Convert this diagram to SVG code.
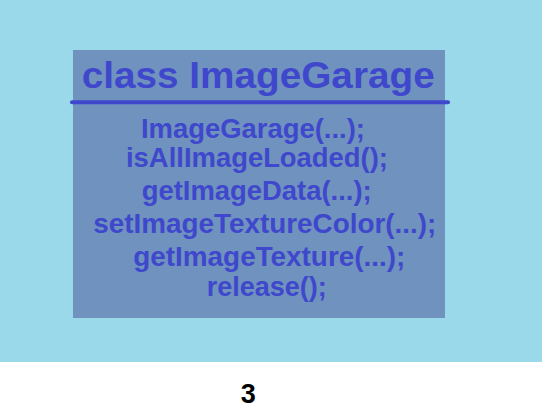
<svg xmlns="http://www.w3.org/2000/svg" width="542" height="414" viewBox="0 0 542 414">
<style>
.t{font-family:"Liberation Sans",Arial,sans-serif;font-weight:bold;fill:#3F48CC}
.m{font-size:27.5px}
</style>
<rect x="0" y="0" width="542" height="414" fill="#FFFFFF"/>
<rect x="0" y="0" width="542" height="362" fill="#99D9EA"/>
<g id="class-ImageGarage">
<rect x="73" y="50" width="372" height="268" fill="#7092BE"/>
<text class="t" x="81.7" y="88" font-size="37.5" textLength="353" lengthAdjust="spacingAndGlyphs">class ImageGarage</text>
<line x1="72" y1="102.3" x2="448" y2="102.3" stroke="#3F48CC" stroke-width="4" stroke-linecap="round"/>
<text class="t m" x="141" y="138" textLength="224" lengthAdjust="spacingAndGlyphs">ImageGarage(...);</text>
<text class="t m" x="126" y="167" textLength="262" lengthAdjust="spacingAndGlyphs">isAllImageLoaded();</text>
<text class="t m" x="141.7" y="200" textLength="230" lengthAdjust="spacingAndGlyphs">getImageData(...);</text>
<text class="t m" x="93.3" y="233" textLength="343" lengthAdjust="spacingAndGlyphs">setImageTextureColor(...);</text>
<text class="t m" x="133.3" y="266" textLength="272" lengthAdjust="spacingAndGlyphs">getImageTexture(...);</text>
<text class="t m" x="206.7" y="296" textLength="120" lengthAdjust="spacingAndGlyphs">release();</text>
</g>
<g id="connectors"/>
<g id="page-number">
<text x="248.3" y="403" font-family="Liberation Sans,Arial,sans-serif" font-weight="bold" font-size="27" fill="#000000" text-anchor="middle">3</text>
</g>
</svg>
